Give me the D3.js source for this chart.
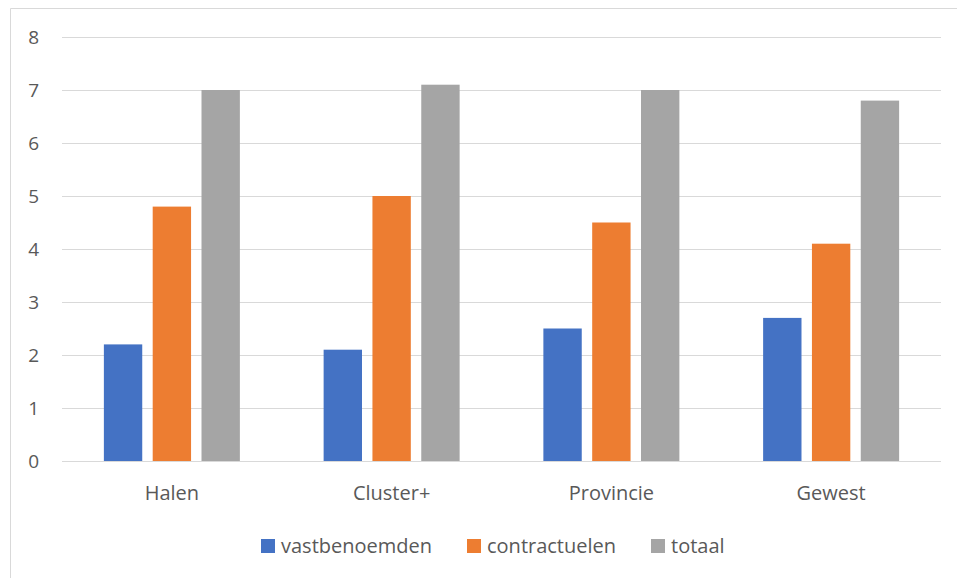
<!DOCTYPE html>
<html><head><meta charset="utf-8">
<script src="https://cdn.jsdelivr.net/npm/d3@7"></script>
<style>body{margin:0;background:#fff}svg{display:block}</style>
</head><body>
<svg id="c" width="957" height="578"></svg>
<script>
const categories = ["Halen", "Cluster+", "Provincie", "Gewest"];
const seriesNames = ["vastbenoemden", "contractuelen", "totaal"];
const vastbenoemden = [2.2, 2.1, 2.5, 2.7];
const contractuelen = [4.8, 5.0, 4.5, 4.1];
const totaal = [7.0, 7.1, 7.0, 6.8];
const yTicks = [0, 1, 2, 3, 4, 5, 6, 7, 8];
const colors = ["#4472C4", "#ED7D31", "#A5A5A5"];
const seriesValues = [vastbenoemden, contractuelen, totaal];

(function () {
const svg = d3.select("#c");
const font = "'Open Sans', sans-serif";
const textColor = "#595959";

svg.append("path").attr("d", "M10.5,578 V8.5 H957").attr("fill", "none").attr("stroke", "#d9d9d9").attr("stroke-width", 1);

const pLeft = 62, pRight = 941, pTop = 37, pBottom = 461;
const x0 = d3.scaleBand().domain(categories).range([pLeft, pRight]);
const groupW = 136;
const x1 = d3.scaleBand().domain(seriesNames).range([0, groupW]).paddingInner(0.214).paddingOuter(0);
const y = d3.scaleLinear().domain([0, 8]).range([pBottom, pTop]);

svg.append("g").selectAll("line").data(yTicks).join("line")
  .attr("x1", pLeft).attr("x2", pRight)
  .attr("y1", d => Math.round(y(d)) + 0.5).attr("y2", d => Math.round(y(d)) + 0.5)
  .attr("stroke", "#d9d9d9").attr("stroke-width", 1);

svg.append("g").selectAll("text").data(yTicks).join("text")
  .attr("x", 39).attr("y", d => y(d)).attr("dy", "0.35em")
  .attr("text-anchor", "end").attr("font-family", font).attr("font-size", 19)
  .attr("fill", textColor).text(d => d);

const data = categories.map((c, i) => ({ c, vals: seriesNames.map((s, j) => ({ s, v: seriesValues[j][i], j })) }));
const g = svg.append("g").selectAll("g").data(data).join("g")
  .attr("transform", d => `translate(${x0(d.c) + (x0.bandwidth() - groupW) / 2},0)`);
g.selectAll("rect").data(d => d.vals).join("rect")
  .attr("x", d => x1(d.s)).attr("width", x1.bandwidth())
  .attr("y", d => y(d.v)).attr("height", d => y(0) - y(d.v))
  .attr("fill", d => colors[d.j]);

svg.append("line").attr("x1", pLeft).attr("x2", pRight).attr("y1", pBottom + 0.5).attr("y2", pBottom + 0.5)
  .attr("stroke", "#d9d9d9").attr("stroke-width", 1);

svg.append("g").selectAll("text").data(categories).join("text")
  .attr("x", d => x0(d) + x0.bandwidth() / 2).attr("y", 493).attr("dy", "0.35em")
  .attr("text-anchor", "middle").attr("font-family", font).attr("font-size", 20)
  .attr("fill", textColor).text(d => d);

const legendX = [261, 467, 651];
const lg = svg.append("g").selectAll("g").data(seriesNames).join("g")
  .attr("transform", (d, i) => `translate(${legendX[i]},539)`);
lg.append("rect").attr("width", 14).attr("height", 14).attr("fill", (d, i) => colors[i]);
lg.append("text").attr("x", 20).attr("y", 7).attr("dy", "0.35em")
  .attr("font-family", font).attr("font-size", 20).attr("fill", textColor).text(d => d);
})();
</script>
</body></html>
